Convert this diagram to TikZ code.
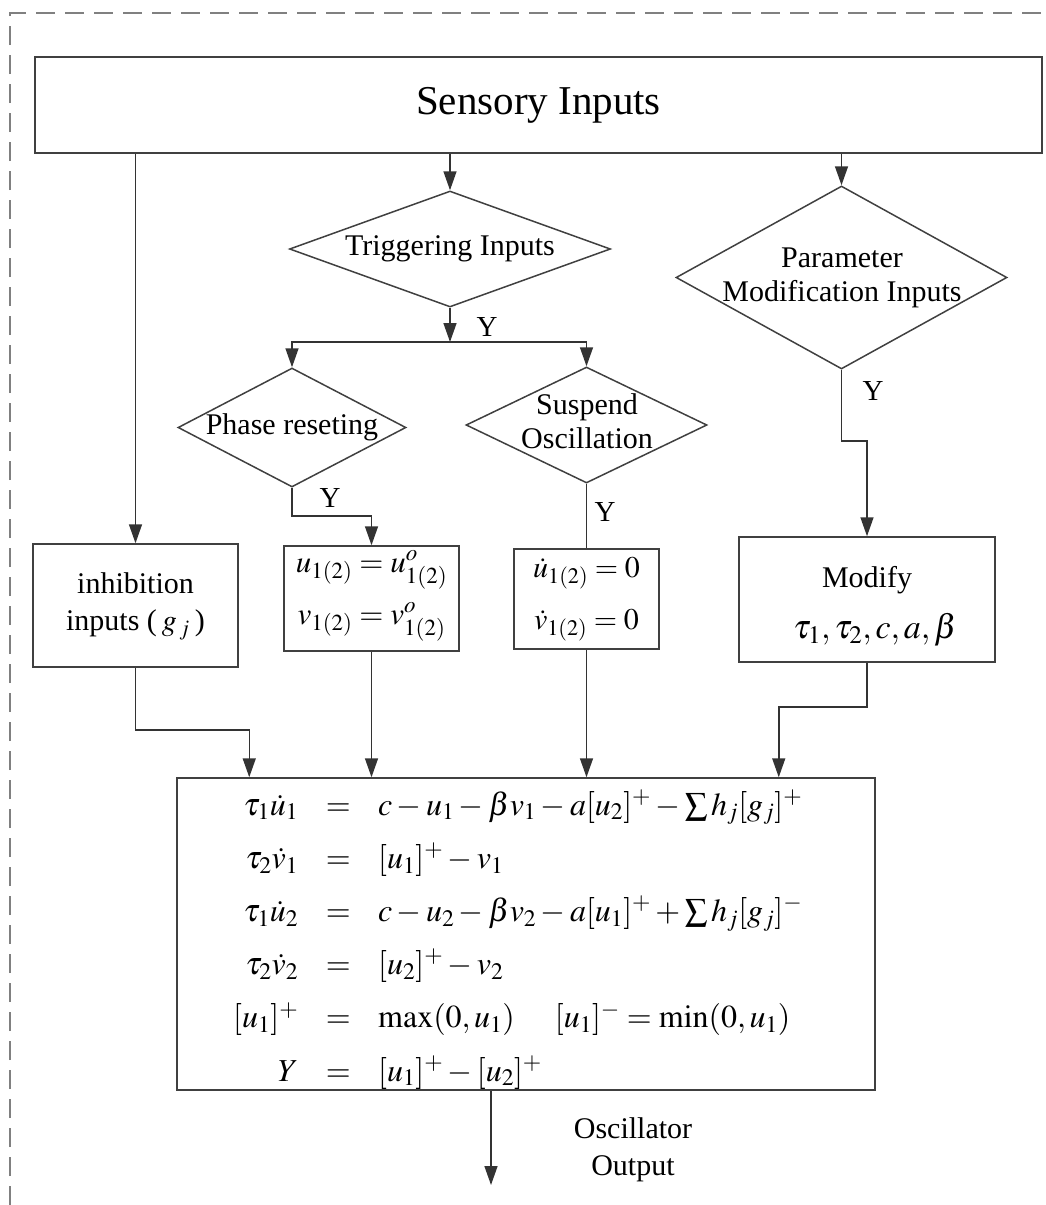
\documentclass[tikz,border=0pt]{standalone}
\usepackage{mathptmx}
\usepackage{fontspec}
\setmainfont{Liberation Serif}
\usetikzlibrary{arrows.meta,shapes.geometric}
\tikzset{
 ln/.style={draw=black!80, line width=1.5pt},
 arr/.style={ln, -{Triangle[length=19pt,width=13pt]}},
 box/.style={draw=black!75, line width=1.5pt, rectangle, inner sep=0pt},
 dia/.style={draw=black!75, line width=1.5pt, diamond, inner sep=0pt},
 lbl/.style={inner sep=0pt, align=center, font=\fontsize{30}{34}\selectfont},
 ylbl/.style={inner sep=0pt, font=\fontsize{29}{29}\selectfont},
 mathl/.style={inner sep=0pt, font=\fontsize{31}{31}\selectfont},
 eqrow/.style={anchor=base west, inner sep=0pt, font=\fontsize{32}{32}\selectfont},
 frame/.style={draw=black!50, line width=1.2pt, dash pattern=on 19pt off 10pt},
}
\begin{document}
\begin{tikzpicture}[x=1pt,y=-1pt]
\useasboundingbox (0,0) rectangle (1046,1205);
\draw[frame] (10,1205) -- (10,13) -- (1046,13);

% top box
\node[box, minimum width=1007pt, minimum height=96pt, font=\fontsize{41}{41}\selectfont] (sens) at (538.5,105) {Sensory Inputs};

% diamonds
\node[dia, minimum width=321pt, minimum height=116pt] (trig) at (450,249) {};
\node[lbl] (trigt) at (trig) {Triggering Inputs};
\node[dia, minimum width=228pt, minimum height=119pt] (phase) at (292,427.5) {};
\node[lbl] (phaset) at (phase) {Phase reseting};
\node[dia, minimum width=241pt, minimum height=116pt] (susp) at (586.5,425) {};
\node[lbl] (suspt) at (587,421) {Suspend\\Oscillation};
\node[dia, minimum width=331pt, minimum height=183pt] (param) at (841.5,277.5) {};
\node[lbl] (paramt) at (842,278) {Parameter\\Modification Inputs};

% boxes
\node[box, minimum width=205pt, minimum height=123pt] (inhib) at (135.5,605.5) {};
\node[lbl, font=\fontsize{30}{37}\selectfont] (inhibt) at (135.5,606.5) {inhibition\\inputs (\,$g_{\,j}$\,)};
\node[box, minimum width=175pt, minimum height=105pt] (pbox) at (371.5,598.5) {};
\node[mathl] (pb1) at (371.5,570) {$u_{1(2)} = u^{o}_{1(2)}$};
\node[mathl] (pb2) at (371.5,622) {$v_{1(2)} = v^{o}_{1(2)}$};
\node[box, minimum width=145pt, minimum height=100pt] (sbox) at (586.5,599) {};
\node[mathl, font=\fontsize{30}{30}\selectfont] (sb1) at (586.5,573) {$\dot u_{1(2)} = 0$};
\node[mathl, font=\fontsize{30}{30}\selectfont] (sb2) at (586.5,625) {$\dot v_{1(2)} = 0$};
\node[box, minimum width=256pt, minimum height=125pt] (mbox) at (867,599.5) {};
\node[lbl] (mt1) at (867,580) {Modify};
\node[inner sep=0pt, font=\fontsize{34}{34}\selectfont] (mt2) at (875,630) {$\tau_1,\tau_2,c,a,\beta$};

% main equations box
\node[box, minimum width=698pt, minimum height=312pt] (main) at (526,934) {};
\node[eqrow] (r1) at (198,815) {\makebox[100pt][r]{$\tau_1\dot u_1$}\makebox[80pt]{$=$}$c-u_1-\beta v_1-a[u_2]^+-\sum h_j[g_j]^+$};
\node[eqrow] (r2) at (198,868.2) {\makebox[100pt][r]{$\tau_2\dot v_1$}\makebox[80pt]{$=$}$[u_1]^+-v_1$};
\node[eqrow] (r3) at (198,921.4) {\makebox[100pt][r]{$\tau_1\dot u_2$}\makebox[80pt]{$=$}$c-u_2-\beta v_2-a[u_1]^++\sum h_j[g_j]^-$};
\node[eqrow] (r4) at (198,974.6) {\makebox[100pt][r]{$\tau_2\dot v_2$}\makebox[80pt]{$=$}$[u_2]^+-v_2$};
\node[eqrow] (r5) at (198,1027.8) {\makebox[100pt][r]{$[u_1]^+$}\makebox[80pt]{$=$}$\max(0,u_1)$\hspace{40pt}$[u_1]^-=\min(0,u_1)$};
\node[eqrow] (r6) at (198,1081) {\makebox[100pt][r]{$Y$}\makebox[80pt]{$=$}$[u_1]^+-[u_2]^+$};

% Y labels
\node[ylbl] (y1) at (487,327) {Y};
\node[ylbl] (y2) at (330,498) {Y};
\node[ylbl] (y3) at (605,512) {Y};
\node[ylbl] (y4) at (873,391) {Y};

% connectors
\draw[arr] (sens.south -| inhib.north) -- (inhib.north);
\draw[arr] (sens.south -| trig.north) -- (trig.north);
\draw[arr] (sens.south -| param.north) -- (param.north);
\coordinate (J) at (450,342);
\draw[arr] (trig.south) -- (J);
\draw[arr] (J) -| (phase.north);
\draw[arr] (J) -| (susp.north);
\draw[arr] (phase.south) -- ++(0,28) -| (pbox.north);
\draw[ln] (susp.south) -- (sbox.north);
\draw[arr] (param.south) -- ++(0,71) -| (mbox.north);
\draw[arr] (inhib.south) -- ++(0,62) -| ([xshift=73pt]main.north west);
\draw[arr] (pbox.south) -- (pbox.south |- main.north);
\draw[arr] (sbox.south) -- (sbox.south |- main.north);
\draw[arr] (mbox.south) -- ++(0,44) -| ([xshift=-97pt]main.north east);
\coordinate (out) at (491,1185);
\draw[arr] (main.south -| out) -- (out);
\node[lbl, font=\fontsize{30}{37}\selectfont] (outt) at (633,1150) {Oscillator\\Output};
\end{tikzpicture}
\end{document}
